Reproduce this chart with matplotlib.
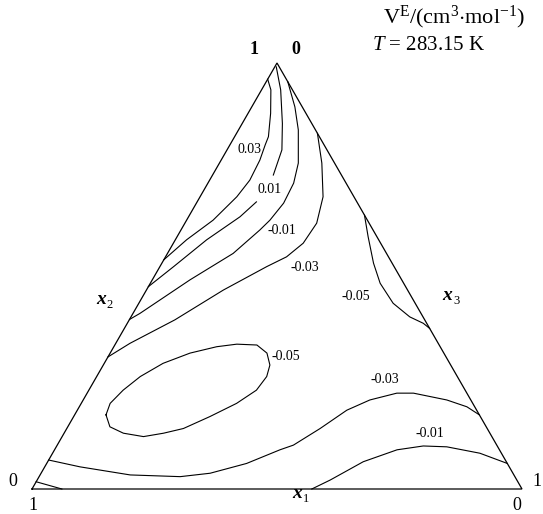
import numpy as np
import matplotlib
matplotlib.use("Agg")
import matplotlib.pyplot as plt

plt.rcParams['font.family'] = ['Liberation Serif', 'DejaVu Serif']
plt.rcParams['mathtext.fontset'] = 'custom'
plt.rcParams['mathtext.rm'] = 'Liberation Serif'
plt.rcParams['mathtext.it'] = 'Liberation Serif:italic'
plt.rcParams['mathtext.bf'] = 'Liberation Serif:bold'

# Excess molar volume iso-lines, traced as (x2, x3) mole fractions; x1 = 1 - x2 - x3
ve_p003 = [(0.962, 0.000), (0.937, 0.019), (0.882, 0.046), (0.827, 0.069), (0.808, 0.072),
           (0.772, 0.079), (0.725, 0.082), (0.686, 0.075), (0.631, 0.054), (0.585, 0.023),
           (0.538, 0.000)]
ve_p001_a = [(0.991, 0.003), (0.937, 0.039), (0.858, 0.082), (0.796, 0.112), (0.737, 0.124)]
ve_p001_b = [(0.674, 0.121), (0.639, 0.105), (0.585, 0.064), (0.522, 0.028), (0.475, 0.000)]
ve_m001 = [(0.956, 0.044), (0.897, 0.088), (0.843, 0.122), (0.765, 0.161), (0.718, 0.175),
           (0.671, 0.178), (0.631, 0.170), (0.608, 0.161), (0.553, 0.134), (0.491, 0.077),
           (0.412, 0.014), (0.398, 0.000)]
ve_m003 = [(0.835, 0.165), (0.765, 0.209), (0.686, 0.251), (0.624, 0.269), (0.577, 0.265),
           (0.545, 0.247), (0.522, 0.218), (0.467, 0.157), (0.397, 0.093), (0.342, 0.029),
           (0.310, 0.000)]
ve_m005_side = [(0.643, 0.357), (0.592, 0.390), (0.530, 0.432), (0.483, 0.469), (0.436, 0.519),
                (0.404, 0.569), (0.389, 0.604), (0.377, 0.623)]
ve_m005_loop = [(0.174, 0.064), (0.201, 0.059), (0.232, 0.070), (0.264, 0.089), (0.295, 0.120),
                (0.319, 0.163), (0.334, 0.210), (0.340, 0.248), (0.338, 0.290), (0.319, 0.320),
                (0.291, 0.340), (0.264, 0.347), (0.232, 0.342), (0.201, 0.317), (0.170, 0.278),
                (0.142, 0.238), (0.131, 0.203), (0.123, 0.166), (0.131, 0.121), (0.146, 0.086),
                (0.174, 0.064)]
ve_m003_low = [(0.068, 0.000), (0.052, 0.072), (0.033, 0.184), (0.029, 0.288), (0.037, 0.345),
               (0.060, 0.408), (0.092, 0.460), (0.103, 0.482), (0.142, 0.517), (0.185, 0.550),
               (0.209, 0.585), (0.225, 0.632), (0.225, 0.666), (0.209, 0.742), (0.193, 0.791),
               (0.174, 0.826)]
ve_m001_corner = [(0.017, 0.000), (0.000, 0.061)]
ve_m001_low = [(0.000, 0.571), (0.021, 0.598), (0.064, 0.644), (0.092, 0.699), (0.101, 0.748),
               (0.099, 0.797), (0.084, 0.872), (0.060, 0.940)]

iso_lines = [ve_p003, ve_p001_a, ve_p001_b, ve_m001, ve_m003, ve_m005_side, ve_m005_loop,
             ve_m003_low, ve_m001_corner, ve_m001_low]

# contour level values and where each value is written, as (x2, x3)
label_levels = [0.03, 0.01, -0.01, -0.03, -0.05, -0.05, -0.03, -0.01]
label_pos = [(0.798, 0.044), (0.702, 0.133), (0.606, 0.207), (0.521, 0.297),
             (0.451, 0.436), (0.310, 0.363), (0.256, 0.592), (0.131, 0.747)]

H = np.sqrt(3) / 2


def to_xy(x2, x3):
    x2 = np.asarray(x2, float)
    x3 = np.asarray(x3, float)
    return x3 + 0.5 * x2, x2 * H


W, Hpx = 543, 514
fig = plt.figure(figsize=(W / 100, Hpx / 100), dpi=100)
ax = fig.add_axes([32 / W, 25 / Hpx, 490 / W, 426 / Hpx])
ax.set_xlim(0, 1)
ax.set_ylim(0, H)
ax.axis('off')

# triangle frame: x1 corner, x3 corner, x2 corner
tx, ty = to_xy([0, 0, 1, 0], [0, 1, 0, 0])
ax.plot(tx, ty, color='black', lw=0.9, solid_joinstyle='miter', clip_on=False)

for line in iso_lines:
    arr = np.array(line)
    lx, ly = to_xy(arr[:, 0], arr[:, 1])
    ax.plot(lx, ly, color='black', lw=0.8, clip_on=False)

for lev, (p2, p3) in zip(label_levels, label_pos):
    lx, ly = to_xy(p2, p3)
    ax.text(lx, ly, f"{lev:.2f}", fontsize=10, ha='center', va='center')


def ftext(px, py, s, **kw):
    fig.text(px / W, 1 - py / Hpx, s, ha='center', va='center', **kw)


# corner values
ftext(254, 50, "1", fontsize=13, fontweight='bold')
ftext(296, 50, "0", fontsize=13, fontweight='bold')
ftext(13, 481, "0", fontsize=13)
ftext(33, 505, "1", fontsize=13)
ftext(537, 481, "1", fontsize=13)
ftext(517, 505, "0", fontsize=13)

# composition axis names
for (px, py), sub in [((101, 300), "2"), ((447, 296), "3"), ((297, 494), "1")]:
    ftext(px, py, "x", fontsize=14, fontweight='bold', fontstyle='italic')
    ftext(px + 9, py + 5, sub, fontsize=9)

# quantity and temperature
ftext(454, 17, r"V$^{\mathrm{E}}$/(cm$^{3}$$\cdot$mol$^{-1}$)", fontsize=16)
ftext(429, 46, r"$T$ = 283.15 K", fontsize=15)

fig.savefig('out.png', dpi=100)
